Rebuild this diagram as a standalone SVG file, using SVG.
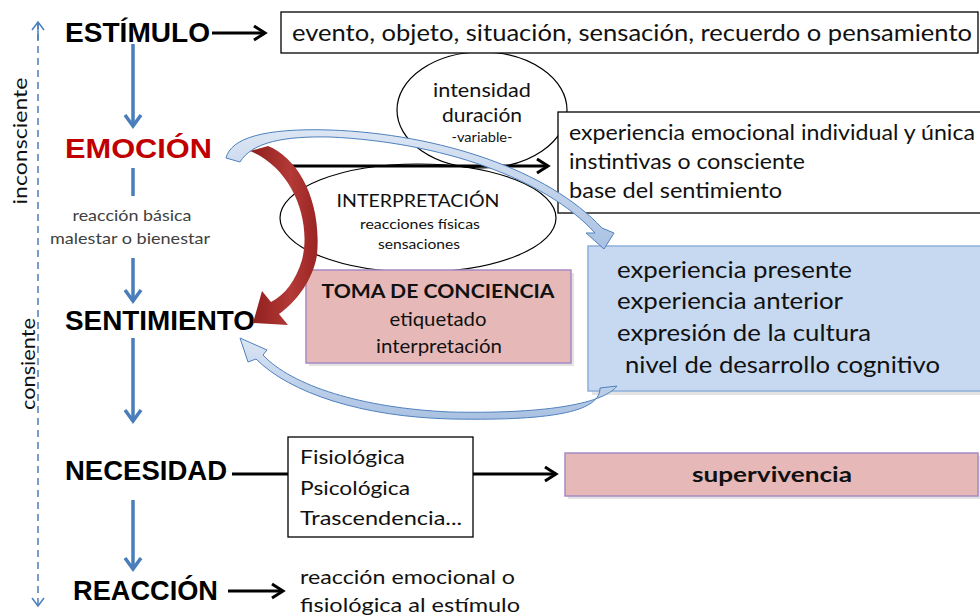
<svg xmlns="http://www.w3.org/2000/svg" width="980" height="616" viewBox="0 0 980 616">
<style>
.lbl{font-family:"Liberation Sans",Arial,sans-serif;font-weight:bold;font-size:28px;fill:#000}
.cal{font-family:Lato,"Open Sans",sans-serif;fill:#111}
.box{fill:#fff;stroke:#000;stroke-width:1.3}
.pink{fill:#E6B9B8;stroke:#A68BC4;stroke-width:1.5}
.blue{fill:#C6D9F1;stroke:#8EB0DA;stroke-width:1.5}
.ell{fill:none;stroke:#000;stroke-width:1.2}
.blk{stroke:#000;stroke-width:3;fill:none}
.bdn{stroke:#4A7EBB;stroke-width:3.5;fill:none}
.band{stroke:#4F81BD;stroke-width:1;fill:url(#gBlue)}
</style>
<defs>
<marker id="hb" markerUnits="userSpaceOnUse" viewBox="0 0 18 18" refX="15" refY="9" markerWidth="18" markerHeight="18" orient="auto">
<path d="M4 2 L15 9 L4 16" fill="none" stroke="#000" stroke-width="3"/>
</marker>
<marker id="hbl" markerUnits="userSpaceOnUse" viewBox="0 0 20 20" refX="17" refY="10" markerWidth="20" markerHeight="20" orient="auto">
<path d="M6 2 L17 10 L6 18" fill="none" stroke="#4A7EBB" stroke-width="3.5"/>
</marker>
<marker id="hthin" markerUnits="userSpaceOnUse" viewBox="0 0 14 14" refX="12" refY="7" markerWidth="14" markerHeight="14" orient="auto">
<path d="M4 1 L12 7 L4 13" fill="none" stroke="#4A7EBB" stroke-width="1.5"/>
</marker>
<linearGradient id="gRed" x1="0" y1="0" x2="1" y2="0">
<stop offset="0" stop-color="#8E1E1E"/>
<stop offset="0.6" stop-color="#B33A36"/>
<stop offset="1" stop-color="#9A2424"/>
</linearGradient>
<linearGradient id="gBlue" x1="0" y1="0" x2="0" y2="1">
<stop offset="0" stop-color="#DCE6F4"/>
<stop offset="1" stop-color="#A9C1E2"/>
</linearGradient>
</defs>

<g id="axis">
<line x1="38" y1="22" x2="38" y2="606" stroke="#4A7EBB" stroke-width="1.5" stroke-dasharray="7 5" marker-end="url(#hthin)"/>
<line x1="38" y1="40" x2="38" y2="22" stroke="#4A7EBB" stroke-width="1.5" marker-end="url(#hthin)"/>
<text class="cal" font-size="19" text-anchor="middle" transform="translate(27,141) rotate(-90)" textLength="127" lengthAdjust="spacingAndGlyphs" fill="#222">inconsciente</text>
<text class="cal" font-size="19" text-anchor="middle" transform="translate(35,364) rotate(-90)" textLength="92" lengthAdjust="spacingAndGlyphs" fill="#222">consiente</text>
</g>

<g id="ellipse-intensidad">
<ellipse class="ell" cx="482" cy="110" rx="85" ry="58"/>
<text class="cal" font-size="19" text-anchor="middle" x="482" y="97" textLength="98" lengthAdjust="spacingAndGlyphs">intensidad</text>
<text class="cal" font-size="19" text-anchor="middle" x="482" y="122" textLength="80" lengthAdjust="spacingAndGlyphs">duración</text>
<text class="cal" font-size="13" text-anchor="middle" x="482" y="142" textLength="61" lengthAdjust="spacingAndGlyphs">-variable-</text>
</g>

<g id="ellipse-interpretacion">
<ellipse class="ell" cx="418" cy="218" rx="138" ry="54"/>
<text class="cal" font-size="18" text-anchor="middle" x="418" y="207" textLength="163" lengthAdjust="spacingAndGlyphs">INTERPRETACIÓN</text>
<text class="cal" font-size="14" text-anchor="middle" x="420" y="229" textLength="120" lengthAdjust="spacingAndGlyphs">reacciones físicas</text>
<text class="cal" font-size="14" text-anchor="middle" x="419" y="249" textLength="82" lengthAdjust="spacingAndGlyphs">sensaciones</text>
</g>

<g id="estimulo">
<text class="lbl" x="65" y="42" textLength="145" lengthAdjust="spacingAndGlyphs">ESTÍMULO</text>
</g>
<g id="box-estimulo">
<rect class="box" x="281" y="12" width="697" height="41"/>
<text class="cal" font-size="23" x="292" y="41" textLength="680" lengthAdjust="spacingAndGlyphs">evento, objeto, situación, sensación, recuerdo o pensamiento</text>
</g>

<g id="emocion">
<text class="lbl" x="65" y="158" fill="#C00000" style="fill:#C00000" textLength="147" lengthAdjust="spacingAndGlyphs">EMOCIÓN</text>
<text class="cal" font-size="15" text-anchor="middle" x="132" y="221" fill="#404040" style="fill:#404040" textLength="119" lengthAdjust="spacingAndGlyphs">reacción básica</text>
<text class="cal" font-size="15" text-anchor="middle" x="130" y="244" fill="#404040" style="fill:#404040" textLength="160" lengthAdjust="spacingAndGlyphs">malestar o bienestar</text>
</g>

<g id="box-emocion">
<rect class="box" x="558" y="112" width="430" height="101"/>
<text class="cal" font-size="21" x="569" y="140" textLength="406" lengthAdjust="spacingAndGlyphs">experiencia emocional individual y única</text>
<text class="cal" font-size="21" x="569" y="169" textLength="236" lengthAdjust="spacingAndGlyphs">instintivas o consciente</text>
<text class="cal" font-size="21" x="569" y="198" textLength="213" lengthAdjust="spacingAndGlyphs">base del sentimiento</text>
</g>

<g id="box-cultura">
<rect x="592" y="250" width="392" height="145" fill="#b0b0b0" opacity="0.35"/>
<rect class="blue" x="588" y="246" width="395" height="145"/>
<text class="cal" font-size="23" x="617" y="278" textLength="235" lengthAdjust="spacingAndGlyphs">experiencia presente</text>
<text class="cal" font-size="23" x="617" y="309" textLength="226" lengthAdjust="spacingAndGlyphs">experiencia anterior</text>
<text class="cal" font-size="23" x="617" y="341" textLength="254" lengthAdjust="spacingAndGlyphs">expresión de la cultura</text>
<text class="cal" font-size="23" x="625" y="373" textLength="315" lengthAdjust="spacingAndGlyphs">nivel de desarrollo cognitivo</text>
</g>

<g id="toma-conciencia">
<rect x="309" y="273" width="265" height="93" fill="#b0b0b0" opacity="0.35"/>
<rect class="pink" x="306" y="270" width="265" height="93"/>
<text class="cal" font-size="19" font-weight="bold" text-anchor="middle" x="438" y="298" textLength="233" lengthAdjust="spacingAndGlyphs">TOMA DE CONCIENCIA</text>
<text class="cal" font-size="19" text-anchor="middle" x="438" y="326" textLength="97" lengthAdjust="spacingAndGlyphs">etiquetado</text>
<text class="cal" font-size="19" text-anchor="middle" x="439" y="353" textLength="126" lengthAdjust="spacingAndGlyphs">interpretación</text>
</g>

<g id="sentimiento">
<text class="lbl" x="65" y="330" textLength="190" lengthAdjust="spacingAndGlyphs">SENTIMIENTO</text>
</g>

<g id="necesidad">
<text class="lbl" x="65" y="480" textLength="162" lengthAdjust="spacingAndGlyphs">NECESIDAD</text>
</g>
<g id="box-necesidad">
<rect class="box" x="288" y="437" width="185" height="100"/>
<text class="cal" font-size="20" x="300" y="464" textLength="105" lengthAdjust="spacingAndGlyphs">Fisiológica</text>
<text class="cal" font-size="20" x="300" y="495" textLength="110" lengthAdjust="spacingAndGlyphs">Psicológica</text>
<text class="cal" font-size="20" x="300" y="525" textLength="162" lengthAdjust="spacingAndGlyphs">Trascendencia...</text>
</g>
<g id="supervivencia">
<rect x="568" y="456" width="413" height="43" fill="#b0b0b0" opacity="0.35"/>
<rect class="pink" x="565" y="453" width="413" height="43"/>
<text class="cal" font-size="21" font-weight="bold" text-anchor="middle" x="772" y="482" textLength="160" lengthAdjust="spacingAndGlyphs">supervivencia</text>
</g>

<g id="reaccion">
<text class="lbl" x="73" y="600" textLength="145" lengthAdjust="spacingAndGlyphs">REACCIÓN</text>
</g>
<g id="texto-reaccion">
<text class="cal" font-size="20" x="300" y="584" textLength="215" lengthAdjust="spacingAndGlyphs">reacción emocional o</text>
<text class="cal" font-size="20" x="300" y="612" textLength="220" lengthAdjust="spacingAndGlyphs">fisiológica al estímulo</text>
</g>

<g id="connectors">
<path class="blk" d="M212 33 L265 33" marker-end="url(#hb)"/>
<path class="blk" d="M290 166 L548 166" marker-end="url(#hb)"/>
<path class="blk" d="M232 474 L288 474"/>
<path class="blk" d="M473 474 L556 474" marker-end="url(#hb)"/>
<path class="blk" d="M228 591 L283 591" marker-end="url(#hb)"/>
<path class="bdn" d="M133 44 L133 126" marker-end="url(#hbl)"/>
<path class="bdn" d="M133 168 L133 196"/>
<path class="bdn" d="M133 258 L133 301" marker-end="url(#hbl)"/>
<path class="bdn" d="M133 338 L133 421" marker-end="url(#hbl)"/>
<path class="bdn" d="M133 500 L133 569" marker-end="url(#hbl)"/>
<path id="red-curve" fill="url(#gRed)" d="M250 151 C292 168 312 220 302 260 C296 280 285 295 271 302 L262 291 L253 323 L288 325 L279 314 C296 302 313 280 317 255 C322 200 298 158 268 146 Z"/>
<path id="blue-curve-1" class="band" d="M226 158 C231 138 264 128 330 130 C440 134 548 170 602 228 L614 233 L604 249 L586 233 L595 233 C545 178 440 142 330 137 C285 136 252 142 240 162 Z"/>
<path id="blue-curve-2" class="band" d="M617 386 C602 405 540 414 450 412 C362 408 292 386 263 355 L267 350 L240 338 L248 362 L256 359 C290 393 362 417 452 419 C560 421 600 410 600 388 Z"/>
</g>
</svg>
